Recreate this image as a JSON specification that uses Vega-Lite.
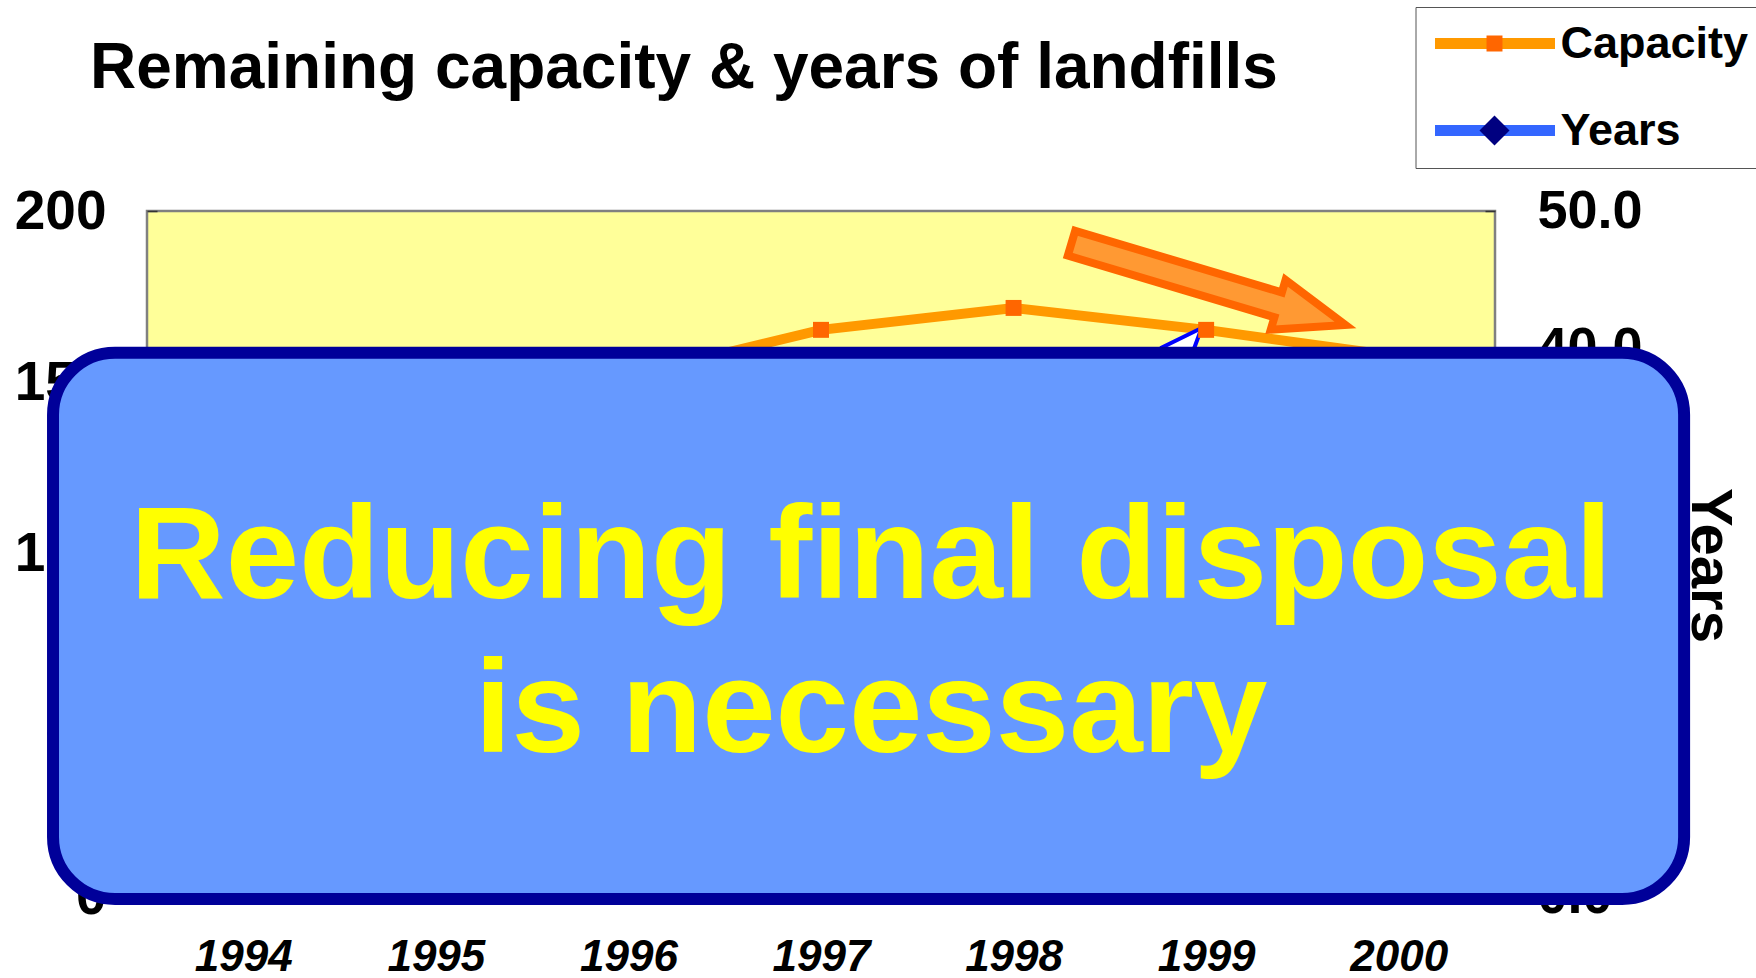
{
  "$schema": "https://vega.github.io/schema/vega-lite/v6.json",
  "width": 1348,
  "height": 685,
  "autosize": {"type": "none"},
  "padding": {"left": 147, "top": 211, "right": 261, "bottom": 82},
  "background": "white",
  "config": {
    "font": "Liberation Sans",
    "view": {"fill": "#FFFF99", "stroke": "#808080", "strokeWidth": 2.5}
  },
  "title": {
    "text": "Remaining capacity & years of landfills",
    "anchor": "start",
    "frame": "group",
    "fontSize": 64,
    "font": "Liberation Sans",
    "fontWeight": "bold",
    "color": "#000000",
    "baseline": "alphabetic",
    "dx": -57,
    "offset": -145
  },
  "data": {
    "values": [
      {"year": 1994, "series": "Capacity", "value": 145},
      {"year": 1995, "series": "Capacity", "value": 148},
      {"year": 1996, "series": "Capacity", "value": 151.7},
      {"year": 1997, "series": "Capacity", "value": 165.3},
      {"year": 1998, "series": "Capacity", "value": 171.7},
      {"year": 1999, "series": "Capacity", "value": 165.3},
      {"year": 2000, "series": "Capacity", "value": 157.5},
      {"year": 1994, "series": "Years", "value": 8.5},
      {"year": 1995, "series": "Years", "value": 8.8},
      {"year": 1996, "series": "Years", "value": 8.8},
      {"year": 1997, "series": "Years", "value": 11.2},
      {"year": 1998, "series": "Years", "value": 11.7},
      {"year": 1999, "series": "Years", "value": 12.3},
      {"year": 2000, "series": "Years", "value": 12.8}
    ]
  },
  "layer": [
    {
      "layer": [
        {
          "transform": [{"filter": "datum.series === 'Years'"}],
          "mark": {"type": "line", "strokeWidth": 6},
          "encoding": {
            "x": {"field": "year", "type": "quantitative", "scale": {"domain": [1993.5, 2000.5], "nice": false, "zero": false},
              "axis": {"values": [1994, 1995, 1996, 1997, 1998, 1999, 2000], "format": "d", "title": null,
                "labelFontSize": 44, "labelFontWeight": "bold", "labelFontStyle": "italic", "labelColor": "#000000",
                "labelPadding": 39, "ticks": false, "domain": false, "grid": false, "labelFont": "Liberation Sans"}},
            "y": {
              "field": "value", "type": "quantitative",
              "scale": {"domain": [0, 50], "nice": false, "zero": true},
              "axis": {"orient": "right", "values": [0, 10, 20, 30, 40, 50], "format": ".1f", "title": "Years",
                "labelFontSize": 54, "labelFontWeight": "bold", "labelColor": "#000000", "labelFont": "Liberation Sans",
                "labelPadding": 52, "tickSize": -10, "tickColor": "#333333", "tickWidth": 1.5, "domain": false, "grid": false,
                "titleFontSize": 58, "titleFontWeight": "bold", "titleColor": "#000000", "titleFont": "Liberation Sans",
                "titlePadding": 37, "titleY": 354}
            },
            "color": {
              "field": "series", "type": "nominal",
              "scale": {"range": ["#FF9900", "#3366FF"]},
              "legend": {"orient": "none", "legendX": 1268.5, "legendY": -204, "title": null, "symbolType": "stroke",
                "symbolSize": 14400, "symbolStrokeWidth": 11, "clipHeight": 45, "labelFontSize": 45, "labelFont": "Liberation Sans",
                "labelFontWeight": "bold", "labelColor": "#000000", "rowPadding": 41, "padding": 14,
                "strokeColor": "#555555", "labelOffset": 0, "labelLimit": 400}
            }
          }
        },
        {
          "transform": [{"filter": "datum.series === 'Years'"}],
          "mark": {"type": "point", "filled": true, "size": 14400, "strokeWidth": 0, "opacity": 1},
          "encoding": {
            "x": {"field": "year", "type": "quantitative", "scale": {"domain": [1993.5, 2000.5], "nice": false, "zero": false},
              "axis": {"values": [1994, 1995, 1996, 1997, 1998, 1999, 2000], "format": "d", "title": null,
                "labelFontSize": 44, "labelFontWeight": "bold", "labelFontStyle": "italic", "labelColor": "#000000",
                "labelPadding": 39, "ticks": false, "domain": false, "grid": false, "labelFont": "Liberation Sans"}},
            "y": {
              "field": "value", "type": "quantitative",
              "scale": {"domain": [0, 50], "nice": false, "zero": true},
              "axis": {"orient": "right", "values": [0, 10, 20, 30, 40, 50], "format": ".1f", "title": "Years",
                "labelFontSize": 54, "labelFontWeight": "bold", "labelColor": "#000000", "labelFont": "Liberation Sans",
                "labelPadding": 52, "tickSize": -10, "tickColor": "#333333", "tickWidth": 1.5, "domain": false, "grid": false,
                "titleFontSize": 58, "titleFontWeight": "bold", "titleColor": "#000000", "titleFont": "Liberation Sans",
                "titlePadding": 37, "titleY": 354}
            },
            "fill": {
              "field": "series", "type": "nominal",
              "scale": {"domain": ["Capacity", "Years"], "range": ["#FF6600", "#000080"]},
              "legend": {"orient": "none", "legendX": 1273.5, "legendY": -204, "title": null, "symbolSize": 14400,
                "symbolStrokeWidth": 0, "clipHeight": 45, "labelFontSize": 45, "labelFontWeight": "bold", "labelOpacity": 0,
                "rowPadding": 41, "padding": 14, "labelOffset": 0}
            },
            "shape": {
              "field": "series", "type": "nominal",
              "scale": {"domain": ["Capacity", "Years"], "range": ["M -0.133 -0.133 L 0.133 -0.133 L 0.133 0.133 L -0.133 0.133 Z", "M -0.25 0 L 0 -0.25 L 0.25 0 L 0 0.25 Z"]},
              "legend": {"orient": "none", "legendX": 1273.5, "legendY": -204, "title": null, "symbolSize": 14400,
                "symbolStrokeWidth": 0, "clipHeight": 45, "labelFontSize": 45, "labelFontWeight": "bold", "labelOpacity": 0,
                "rowPadding": 41, "padding": 14, "labelOffset": 0}
            }
          }
        }
      ]
    },
    {
      "layer": [
        {
          "transform": [{"filter": "datum.series === 'Capacity'"}],
          "mark": {"type": "line", "strokeWidth": 10},
          "encoding": {
            "x": {"field": "year", "type": "quantitative", "scale": {"domain": [1993.5, 2000.5], "nice": false, "zero": false},
              "axis": {"values": [1994, 1995, 1996, 1997, 1998, 1999, 2000], "format": "d", "title": null,
                "labelFontSize": 44, "labelFontWeight": "bold", "labelFontStyle": "italic", "labelColor": "#000000",
                "labelPadding": 39, "ticks": false, "domain": false, "grid": false, "labelFont": "Liberation Sans"}},
            "y": {"field": "value", "type": "quantitative", "scale": {"domain": [0, 200], "nice": false, "zero": true},
              "axis": {"orient": "left", "values": [0, 50, 100, 150, 200], "format": "d", "title": null,
                "labelFontSize": 55, "labelFontWeight": "bold", "labelColor": "#000000", "labelFont": "Liberation Sans",
                "labelPadding": 51, "tickSize": -10, "tickColor": "#333333", "tickWidth": 1.5, "domain": false, "grid": false}},
            "color": {"field": "series", "type": "nominal"}
          }
        },
        {
          "data": {"values": [{"note": "pointer"}]},
          "mark": {"type": "point", "shape": "M 1 0 L -1 -0.8 L -1 0.8 Z", "size": 1600, "filled": true,
            "fill": "#FFFFFF", "stroke": "#0000FF", "strokeWidth": 4, "strokeJoin": "miter", "opacity": 1, "angle": 312},
          "encoding": {
            "x": {"datum": 1998.907, "type": "quantitative", "scale": {"domain": [1993.5, 2000.5], "nice": false, "zero": false},
              "axis": {"values": [1994, 1995, 1996, 1997, 1998, 1999, 2000], "format": "d", "title": null,
                "labelFontSize": 44, "labelFontWeight": "bold", "labelFontStyle": "italic", "labelColor": "#000000",
                "labelPadding": 39, "ticks": false, "domain": false, "grid": false, "labelFont": "Liberation Sans"}},
            "y": {"datum": 161.5, "type": "quantitative", "scale": {"domain": [0, 200], "nice": false, "zero": true},
              "axis": {"orient": "left", "values": [0, 50, 100, 150, 200], "format": "d", "title": null,
                "labelFontSize": 55, "labelFontWeight": "bold", "labelColor": "#000000", "labelFont": "Liberation Sans",
                "labelPadding": 51, "tickSize": -10, "tickColor": "#333333", "tickWidth": 1.5, "domain": false, "grid": false}}
          }
        },
        {
          "transform": [{"filter": "datum.series === 'Capacity'"}],
          "mark": {"type": "point", "filled": true, "size": 14400, "strokeWidth": 0, "opacity": 1},
          "encoding": {
            "x": {"field": "year", "type": "quantitative", "scale": {"domain": [1993.5, 2000.5], "nice": false, "zero": false},
              "axis": {"values": [1994, 1995, 1996, 1997, 1998, 1999, 2000], "format": "d", "title": null,
                "labelFontSize": 44, "labelFontWeight": "bold", "labelFontStyle": "italic", "labelColor": "#000000",
                "labelPadding": 39, "ticks": false, "domain": false, "grid": false, "labelFont": "Liberation Sans"}},
            "y": {"field": "value", "type": "quantitative", "scale": {"domain": [0, 200], "nice": false, "zero": true},
              "axis": {"orient": "left", "values": [0, 50, 100, 150, 200], "format": "d", "title": null,
                "labelFontSize": 55, "labelFontWeight": "bold", "labelColor": "#000000", "labelFont": "Liberation Sans",
                "labelPadding": 51, "tickSize": -10, "tickColor": "#333333", "tickWidth": 1.5, "domain": false, "grid": false}},
            "fill": {"field": "series", "type": "nominal"},
            "shape": {"field": "series", "type": "nominal"}
          }
        },
        {
          "data": {"values": [{"note": "trend arrow"}]},
          "mark": {"type": "point",
            "shape": "M -0.974 -0.085 L 0.44 -0.085 L 0.44 -0.17 L 0.9 0 L 0.44 0.17 L 0.44 0.085 L -0.974 0.085 Z",
            "size": 93025, "filled": true, "fill": "#FF9933", "stroke": "#FF6600", "strokeWidth": 8,
            "strokeJoin": "miter", "opacity": 1, "angle": 16.6},
          "encoding": {
            "x": {"datum": 1999.04, "type": "quantitative", "scale": {"domain": [1993.5, 2000.5], "nice": false, "zero": false},
              "axis": {"values": [1994, 1995, 1996, 1997, 1998, 1999, 2000], "format": "d", "title": null,
                "labelFontSize": 44, "labelFontWeight": "bold", "labelFontStyle": "italic", "labelColor": "#000000",
                "labelPadding": 39, "ticks": false, "domain": false, "grid": false, "labelFont": "Liberation Sans"}},
            "y": {"datum": 178.2, "type": "quantitative", "scale": {"domain": [0, 200], "nice": false, "zero": true},
              "axis": {"orient": "left", "values": [0, 50, 100, 150, 200], "format": "d", "title": null,
                "labelFontSize": 55, "labelFontWeight": "bold", "labelColor": "#000000", "labelFont": "Liberation Sans",
                "labelPadding": 51, "tickSize": -10, "tickColor": "#333333", "tickWidth": 1.5, "domain": false, "grid": false}}
          }
        },
        {
          "data": {"values": [{"note": "box"}]},
          "mark": {"type": "rect", "fill": "#6699FF", "stroke": "#000099", "strokeWidth": 12, "cornerRadius": 62, "opacity": 1},
          "encoding": {
            "x": {"datum": 1993.012, "type": "quantitative", "scale": {"domain": [1993.5, 2000.5], "nice": false, "zero": false},
              "axis": {"values": [1994, 1995, 1996, 1997, 1998, 1999, 2000], "format": "d", "title": null,
                "labelFontSize": 44, "labelFontWeight": "bold", "labelFontStyle": "italic", "labelColor": "#000000",
                "labelPadding": 39, "ticks": false, "domain": false, "grid": false, "labelFont": "Liberation Sans"}},
            "x2": {"datum": 2001.482},
            "y": {"datum": 158.6, "type": "quantitative", "scale": {"domain": [0, 200], "nice": false, "zero": true},
              "axis": {"orient": "left", "values": [0, 50, 100, 150, 200], "format": "d", "title": null,
                "labelFontSize": 55, "labelFontWeight": "bold", "labelColor": "#000000", "labelFont": "Liberation Sans",
                "labelPadding": 51, "tickSize": -10, "tickColor": "#333333", "tickWidth": 1.5, "domain": false, "grid": false}},
            "y2": {"datum": -0.88}
          }
        },
        {
          "data": {"values": [{"message": ["Reducing final disposal", "is necessary"]}]},
          "mark": {"type": "text", "fontSize": 132, "fontWeight": "bold", "font": "Liberation Sans", "color": "#FFFF00",
            "align": "center", "baseline": "alphabetic", "lineHeight": 154},
          "encoding": {
            "text": {"field": "message", "type": "nominal"},
            "x": {"datum": 1997.26, "type": "quantitative", "scale": {"domain": [1993.5, 2000.5], "nice": false, "zero": false},
              "axis": {"values": [1994, 1995, 1996, 1997, 1998, 1999, 2000], "format": "d", "title": null,
                "labelFontSize": 44, "labelFontWeight": "bold", "labelFontStyle": "italic", "labelColor": "#000000",
                "labelPadding": 39, "ticks": false, "domain": false, "grid": false, "labelFont": "Liberation Sans"}},
            "y": {"datum": 86.9, "type": "quantitative", "scale": {"domain": [0, 200], "nice": false, "zero": true},
              "axis": {"orient": "left", "values": [0, 50, 100, 150, 200], "format": "d", "title": null,
                "labelFontSize": 55, "labelFontWeight": "bold", "labelColor": "#000000", "labelFont": "Liberation Sans",
                "labelPadding": 51, "tickSize": -10, "tickColor": "#333333", "tickWidth": 1.5, "domain": false, "grid": false}}
          }
        }
      ]
    }
  ],
  "resolve": {"scale": {"y": "independent"}}
}
